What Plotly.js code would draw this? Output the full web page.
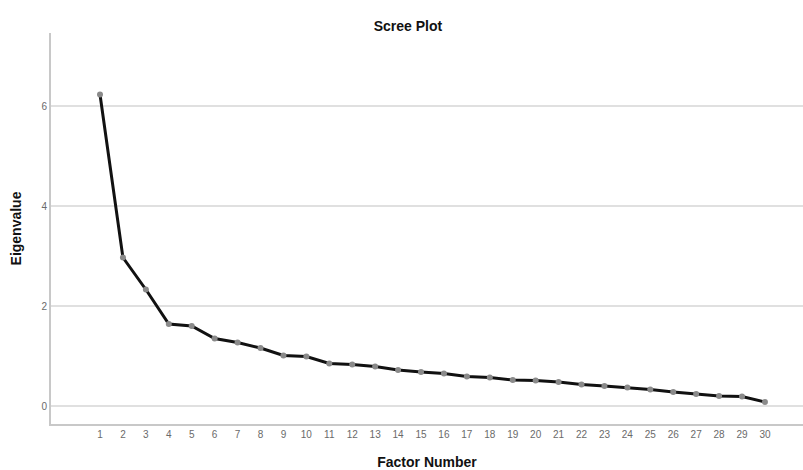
<!DOCTYPE html>
<html>
<head>
<meta charset="utf-8">
<script src="https://cdn.plot.ly/plotly-3.0.1.min.js"></script>
<style>html,body{margin:0;padding:0;background:#fff;}#chart{width:803px;height:470px;}</style>
</head>
<body>
<div id="chart"></div>
<script>
const factorNumbers = [1,2,3,4,5,6,7,8,9,10,11,12,13,14,15,16,17,18,19,20,21,22,23,24,25,26,27,28,29,30];
const eigenvalues = [6.23,2.97,2.33,1.64,1.60,1.35,1.27,1.16,1.01,0.99,0.85,0.83,0.79,0.72,0.68,0.65,0.59,0.57,0.52,0.51,0.48,0.43,0.40,0.37,0.33,0.28,0.24,0.20,0.19,0.08];
const yTicks = [0,2,4,6];
const chartTitle = "Scree Plot";
const xTitle = "Factor Number";
const yTitle = "Eigenvalue";

const trace = {
  x: factorNumbers,
  y: eigenvalues,
  type: "scatter",
  mode: "lines+markers",
  line: {color: "#111111", width: 3},
  marker: {color: "#8a8a8a", size: 6, line: {color: "#8a8a8a", width: 0}},
  hoverinfo: "x+y"
};

const layout = {
  width: 803,
  height: 470,
  margin: {l: 51, r: 0, t: 33, b: 46},
  paper_bgcolor: "#ffffff",
  plot_bgcolor: "#ffffff",
  showlegend: false,
  font: {family: "Liberation Sans, Arial, sans-serif", color: "#666666", size: 10},
  title: {
    text: chartTitle,
    font: {family: "Liberation Sans, Arial, sans-serif", size: 14, color: "#111111", weight: "bold"},
    x: 0.508, xref: "container", xanchor: "center",
    y: 0.945, yref: "container", yanchor: "middle"
  },
  xaxis: {
    range: [-1.137, 31.66],
    tickvals: factorNumbers,
    ticktext: factorNumbers.map(String),
    showgrid: false,
    zeroline: false,
    showline: true,
    linecolor: "#c8c8c8",
    linewidth: 2,
    ticks: "",
    tickfont: {size: 10, color: "#6a6a6a"},
    title: {text: xTitle, font: {size: 14, color: "#111111", weight: "bold"}, standoff: 20},
    fixedrange: true
  },
  yaxis: {
    range: [-0.36, 7.46],
    tickvals: yTicks,
    ticktext: yTicks.map(String),
    showgrid: true,
    gridcolor: "#e0e0e0",
    gridwidth: 2,
    zeroline: false,
    showline: true,
    linecolor: "#c8c8c8",
    linewidth: 2,
    ticks: "",
    tickfont: {size: 10, color: "#6a6a6a"},
    title: {text: yTitle, font: {size: 14, color: "#111111", weight: "bold"}, standoff: 17},
    fixedrange: true
  }
};

Plotly.newPlot("chart", [trace], layout, {displayModeBar: false, staticPlot: true});
</script>
</body>
</html>
